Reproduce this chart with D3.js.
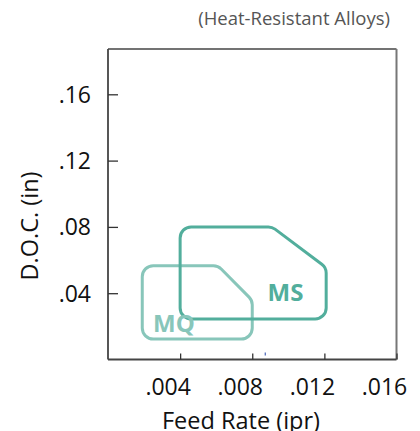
<!DOCTYPE html>
<html>
<head>
<meta charset="utf-8">
<script src="https://cdn.jsdelivr.net/npm/d3@7"></script>
<style>
html,body{margin:0;padding:0;background:#fff;}
svg{display:block;font-family:"Open Sans","Noto Sans",sans-serif;}
</style>
</head>
<body>
<svg id="chart" width="420" height="431"></svg>
<script>
const xTicks = [0.004, 0.008, 0.012, 0.016];
const xTickLabels = [".004", ".008", ".012", ".016"];
const yTicks = [0.04, 0.08, 0.12, 0.16];
const yTickLabels = [".04", ".08", ".12", ".16"];
const regionNames = ["MQ", "MS"];
const mqFeed = [0.0019, 0.0061, 0.0080, 0.0080, 0.0019];
const mqDoc  = [0.0566, 0.0566, 0.0357, 0.0123, 0.0123];
const msFeed = [0.0040, 0.0091, 0.0121, 0.0121, 0.0040];
const msDoc  = [0.0800, 0.0800, 0.0555, 0.0245, 0.0245];
const labelFeed = [0.00250, 0.00885];
const labelDoc  = [0.0168, 0.0353];

const svg = d3.select("#chart");
const L = 108, R = 396.5, T = 49, B = 359.5;
const x = d3.scaleLinear().domain([0, 0.016]).range([L, R]);
const y = d3.scaleLinear().domain([0, 0.04]).range([B, B - 66.3]);

// frame
svg.append("line").attr("x1", L).attr("x2", R).attr("y1", T).attr("y2", T)
  .attr("stroke", "#444").attr("stroke-width", 1.5);
svg.append("line").attr("x1", R).attr("x2", R).attr("y1", T).attr("y2", B)
  .attr("stroke", "#777").attr("stroke-width", 2);

// axes
const xAxis = d3.axisBottom(x).tickValues(xTicks).tickSize(-6).tickFormat("");
const gx = svg.append("g").attr("transform", `translate(0,${B})`).call(xAxis);
gx.select(".domain").attr("stroke", "#444").attr("stroke-width", 2).attr("d", `M${L},0H${R}`);
gx.selectAll(".tick line").attr("stroke", "#333").attr("stroke-width", 1.3);

const yAxis = d3.axisLeft(y).tickValues(yTicks).tickSize(-10).tickFormat("");
const gy = svg.append("g").attr("transform", `translate(${L},0)`).call(yAxis);
gy.select(".domain").attr("stroke", "#444").attr("stroke-width", 1.8).attr("d", `M0,${T}V${B}`);
gy.selectAll(".tick line").attr("stroke", "#333").attr("stroke-width", 1.3);

// tick labels
svg.selectAll(".xl").data(xTicks).enter().append("text")
  .attr("x", d => x(d) - 12).attr("y", 395)
  .attr("text-anchor", "middle").attr("font-size", 23).attr("fill", "#111")
  .text((d, i) => xTickLabels[i]);
svg.selectAll(".yl").data(yTicks).enter().append("text")
  .attr("x", 91).attr("y", d => y(d) + 8.5)
  .attr("text-anchor", "end").attr("font-size", 23).attr("fill", "#111")
  .text((d, i) => yTickLabels[i]);

// axis titles
svg.append("text").attr("x", 241).attr("y", 429).attr("text-anchor", "middle")
  .attr("font-size", 23.5).attr("fill", "#111").text("Feed Rate (ipr)");
svg.append("text").attr("transform", "translate(38,226) rotate(-90)")
  .attr("text-anchor", "middle").attr("font-size", 23.5).attr("fill", "#111").text("D.O.C. (in)");
svg.append("text").attr("x", 390).attr("y", 25).attr("text-anchor", "end")
  .attr("font-size", 18.5).attr("fill", "#555").text("(Heat-Resistant Alloys)");

// small blue artifact mark
svg.append("line").attr("x1", x(0.00872)).attr("x2", x(0.00872)).attr("y1", B - 7).attr("y2", B - 4)
  .attr("stroke", "#2244aa").attr("stroke-width", 1);

function roundedPath(px, py, r) {
  const n = px.length, p = d3.path();
  const pts = px.map((v, i) => [x(v), y(py[i])]);
  const mid = (a, b) => [(a[0] + b[0]) / 2, (a[1] + b[1]) / 2];
  const s = mid(pts[n - 1], pts[0]);
  p.moveTo(s[0], s[1]);
  for (let i = 0; i < n; i++) {
    const c = pts[i], nx = pts[(i + 1) % n];
    p.arcTo(c[0], c[1], nx[0], nx[1], r);
  }
  p.closePath();
  return p.toString();
}

const regions = [
  {name: regionNames[0], f: mqFeed, d: mqDoc, color: "#88c6ba", lf: labelFeed[0], ld: labelDoc[0]},
  {name: regionNames[1], f: msFeed, d: msDoc, color: "#52ae9c", lf: labelFeed[1], ld: labelDoc[1]}
];
regions.forEach(r => {
  svg.append("path").attr("d", roundedPath(r.f, r.d, 11))
    .attr("fill", "none").attr("stroke", r.color).attr("stroke-width", 3)
    .attr("stroke-linejoin", "round");
});
regions.forEach(r => {
  svg.append("text").attr("x", x(r.lf)).attr("y", y(r.ld))
    .attr("font-size", 24).attr("font-weight", "bold").attr("fill", r.color).text(r.name);
});
</script>
</body>
</html>
